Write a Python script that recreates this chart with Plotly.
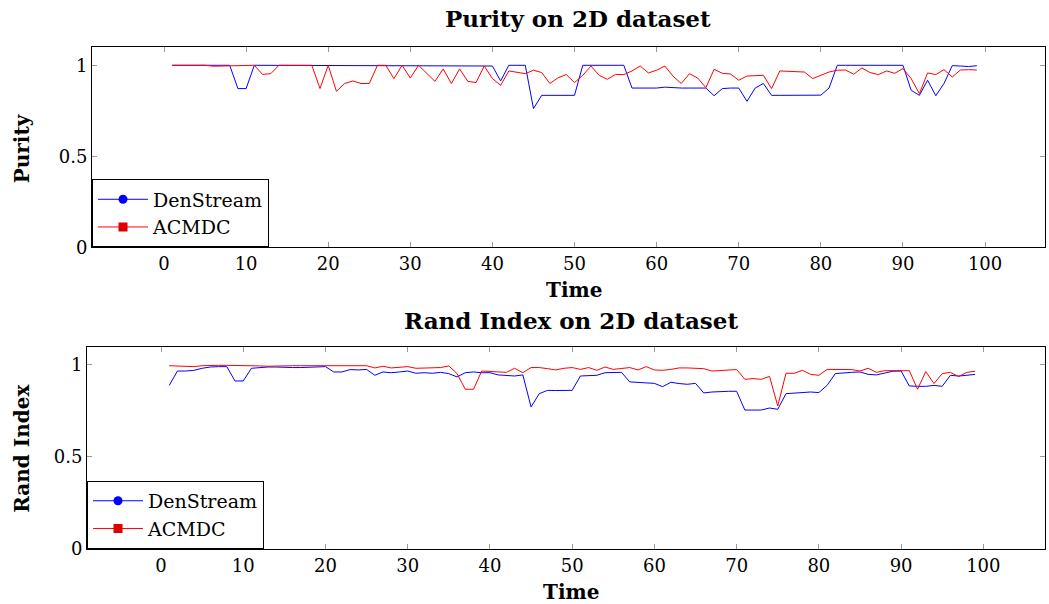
import plotly.graph_objects as go

time = list(range(1, 100))

purity_denstream = [
    1, 1, 1, 1, 1, 1, 1, 1, 0.872, 0.872,
    1, 1, 1, 1, 1, 1, 1, 1, 1, 1,
    1, 1, 1, 1, 1, 1, 1, 1, 1, 1,
    1, 1, 1, 1, 1, 0.998, 0.997, 0.996, 0.996, 0.996,
    0.914, 1, 1, 1, 0.762, 0.835, 0.835, 0.835, 0.835, 0.835,
    1, 1, 1, 1, 1, 1, 0.875, 0.875, 0.875, 0.875,
    0.88, 0.876, 0.875, 0.875, 0.875, 0.875, 0.833, 0.872, 0.875, 0.875,
    0.802, 0.875, 0.9, 0.835, 0.835, 0.835, 0.835, 0.835, 0.835, 0.836,
    0.875, 1, 1, 1, 1, 1, 1, 1, 1, 1,
    0.863, 0.835, 0.918, 0.833, 0.9, 0.998, 0.996, 0.993, 0.998,
]

purity_acmdc = [
    1, 1, 1, 1, 1, 0.995, 0.996, 1, 1, 1,
    1, 0.95, 0.954, 1, 1, 1, 1, 1, 0.872, 1,
    0.857, 0.9, 0.914, 0.9, 0.9, 1, 1, 0.927, 1, 0.93,
    1, 0.954, 0.912, 0.98, 0.9, 0.98, 0.912, 0.905, 0.996, 0.927,
    0.89, 0.969, 0.96, 0.954, 0.973, 0.96, 0.9, 0.932, 0.949, 0.905,
    0.945, 0.996, 0.945, 0.923, 0.95, 0.949, 0.969, 0.996, 0.958, 0.973,
    0.996, 0.94, 0.9, 0.954, 0.93, 0.877, 0.978, 0.956, 0.952, 0.918,
    0.941, 0.941, 0.945, 0.872, 0.969, 0.967, 0.967, 0.963, 0.927, 0.945,
    0.963, 0.973, 0.974, 0.951, 0.985, 0.96, 0.949, 0.969, 0.956, 0.982,
    0.927, 0.844, 0.958, 0.949, 0.976, 0.936, 0.974, 0.976, 0.974,
]

rand_denstream = [
    0.889, 0.967, 0.967, 0.971, 0.982, 0.989, 0.991, 0.991, 0.913, 0.913,
    0.982, 0.986, 0.989, 0.989, 0.986, 0.986, 0.986, 0.989, 0.991, 0.991,
    0.962, 0.962, 0.975, 0.973, 0.976, 0.944, 0.962, 0.958, 0.962, 0.967,
    0.955, 0.958, 0.955, 0.96, 0.953, 0.935, 0.958, 0.962, 0.958, 0.958,
    0.946, 0.944, 0.94, 0.946, 0.772, 0.844, 0.862, 0.861, 0.862, 0.862,
    0.94, 0.944, 0.944, 0.958, 0.96, 0.96, 0.908, 0.904, 0.902, 0.9,
    0.882, 0.906, 0.899, 0.895, 0.9, 0.848, 0.853, 0.857, 0.857, 0.857,
    0.755, 0.755, 0.755, 0.766, 0.759, 0.844, 0.848, 0.85, 0.853, 0.85,
    0.889, 0.953, 0.958, 0.96, 0.962, 0.949, 0.946, 0.958, 0.966, 0.967,
    0.886, 0.884, 0.884, 0.889, 0.884, 0.944, 0.94, 0.944, 0.949,
]

rand_acmdc = [
    0.996, 0.995, 0.993, 0.991, 0.996, 0.995, 0.998, 0.998, 0.998, 0.998,
    0.998, 0.995, 0.993, 0.995, 0.996, 0.996, 0.996, 0.996, 0.996, 0.993,
    0.993, 0.993, 0.993, 0.993, 0.996, 0.984, 0.993, 0.984, 0.989, 0.991,
    0.982, 0.984, 0.984, 0.986, 0.995, 0.953, 0.868, 0.868, 0.967, 0.964,
    0.964, 0.96, 0.982, 0.958, 0.986, 0.986, 0.98, 0.973, 0.982, 0.986,
    0.976, 0.986, 0.971, 0.989, 0.976, 0.98, 0.986, 0.973, 0.991, 0.973,
    0.971, 0.976, 0.984, 0.984, 0.984, 0.98, 0.967, 0.969, 0.971, 0.975,
    0.922, 0.926, 0.922, 0.938, 0.777, 0.955, 0.955, 0.971, 0.949, 0.944,
    0.976, 0.976, 0.976, 0.975, 0.967, 0.982, 0.96, 0.969, 0.969, 0.969,
    0.969, 0.868, 0.964, 0.899, 0.953, 0.96, 0.937, 0.96, 0.966,
]

x_ticks = [0, 10, 20, 30, 40, 50, 60, 70, 80, 90, 100]
y_ticks = [0, 0.5, 1]
y_tick_labels = ["0", "0.5", "1"]

W, H = 1049, 604
H_EFF = 593  # effective rendered height used for pixel -> paper conversion
BLUE = "#0000ff"
RED = "#ff0000"
FONT = "DejaVu Serif"

fig = go.Figure()

fig.add_trace(go.Scatter(x=time, y=purity_denstream, mode="lines",
                         line=dict(color=BLUE, width=1), showlegend=False,
                         xaxis="x", yaxis="y"))
fig.add_trace(go.Scatter(x=time, y=purity_acmdc, mode="lines",
                         line=dict(color=RED, width=1), showlegend=False,
                         xaxis="x", yaxis="y"))
fig.add_trace(go.Scatter(x=time, y=rand_denstream, mode="lines",
                         line=dict(color=BLUE, width=1), showlegend=False,
                         xaxis="x2", yaxis="y2"))
fig.add_trace(go.Scatter(x=time, y=rand_acmdc, mode="lines",
                         line=dict(color=RED, width=1), showlegend=False,
                         xaxis="x2", yaxis="y2"))

for leg, xa, ya in [("legend", "x", "y"), ("legend2", "x2", "y2")]:
    fig.add_trace(go.Scatter(x=[None], y=[None], mode="lines+markers", name="DenStream",
                             line=dict(color=BLUE, width=1),
                             marker=dict(symbol="circle", size=9, color=BLUE),
                             legend=leg, xaxis=xa, yaxis=ya))
    fig.add_trace(go.Scatter(x=[None], y=[None], mode="lines+markers", name="ACMDC",
                             line=dict(color=RED, width=1),
                             marker=dict(symbol="square", size=9, color="#dd0000"),
                             legend=leg, xaxis=xa, yaxis=ya))


def px_x(p):
    return p / W


def px_y(p):
    return 1 - p / H_EFF


axis_common = dict(
    showline=True, linecolor="black", linewidth=1, mirror="ticks",
    ticks="inside", ticklen=5, tickcolor="#999999", tickwidth=1,
    showgrid=False, zeroline=False,
    tickfont=dict(family=FONT, size=18, color="black"),
)

legend_common = dict(
    xanchor="left", yanchor="bottom",
    bgcolor="white", bordercolor="black", borderwidth=1,
    font=dict(family=FONT, size=19, color="black"),
    itemwidth=50, tracegroupgap=0,
)


def label(text, x, y, size=20, angle=0):
    return dict(text=text, x=px_x(x), y=px_y(y), xref="paper", yref="paper",
                xanchor="center", yanchor="middle", textangle=angle,
                showarrow=False, font=dict(family=FONT, size=size, color="black"))


fig.update_layout(
    width=W, height=H, autosize=False,
    margin=dict(l=0, r=0, t=0, b=0, pad=0),
    paper_bgcolor="white", plot_bgcolor="white",
    xaxis=dict(domain=[px_x(92), px_x(1045)], range=[-8.77, 107.3],
               tickmode="array", tickvals=x_ticks, anchor="y", **axis_common),
    yaxis=dict(domain=[px_y(247), px_y(47)], range=[0, 1.1],
               tickmode="array", tickvals=y_ticks, ticktext=y_tick_labels,
               anchor="x", **axis_common),
    xaxis2=dict(domain=[px_x(87), px_x(1045)], range=[-9.0, 107.5],
                tickmode="array", tickvals=x_ticks, anchor="y2", **axis_common),
    yaxis2=dict(domain=[px_y(548), px_y(346)], range=[0, 1.1],
                tickmode="array", tickvals=y_ticks, ticktext=y_tick_labels,
                anchor="x2", **axis_common),
    legend=dict(x=px_x(92), y=px_y(247), **legend_common),
    legend2=dict(x=px_x(87), y=px_y(548), **legend_common),
    annotations=[
        label("<b>Purity on 2D dataset</b>", 578, 18, size=23),
        label("<b>Rand Index on 2D dataset</b>", 571, 320, size=23),
        label("<b>Time</b>", 574, 290, size=20),
        label("<b>Time</b>", 571, 591, size=20),
        label("<b>Purity</b>", 22, 148, size=20, angle=-90),
        label("<b>Rand Index</b>", 22, 448, size=20, angle=-90),
    ],
)

fig.write_html("out.html")
